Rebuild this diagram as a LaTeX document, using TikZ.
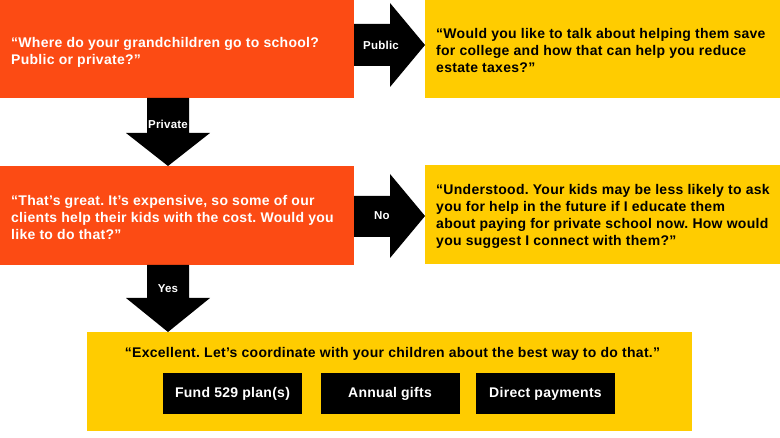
\documentclass[tikz,border=0pt]{standalone}
\usepackage{fontspec}
\setmainfont{Liberation Sans}[LetterSpace=2]
\usetikzlibrary{calc}
\definecolor{orng}{RGB}{252,75,20}
\definecolor{ylw}{RGB}{255,204,0}
\frenchspacing
\begin{document}
\begin{tikzpicture}[x=1pt,y=-1pt,
 box/.style={anchor=north west, inner sep=0pt, outer sep=0pt, draw=none},
 obox/.style={box, fill=orng},
 ybox/.style={box, fill=ylw},
 txt/.style={anchor=west, align=left, inner sep=0pt, font=\bfseries\fontsize{14}{17}\selectfont},
 wtxt/.style={txt, text=white},
 lbl/.style={text=white, inner sep=0pt, font=\bfseries\fontsize{11.5}{13}\selectfont},
 btn/.style={fill=black, text=white, minimum width=139pt, minimum height=41pt, inner sep=0pt, font=\bfseries\fontsize{14}{16}\selectfont},
 arr/.style={fill=black}]
\useasboundingbox (0,0) rectangle (780,438);
% boxes
\node[obox, minimum width=354pt, minimum height=98pt] (b1) at (0,0) {};
\node[ybox, minimum width=355pt, minimum height=98pt] (y1) at (425,0) {};
\node[obox, minimum width=354pt, minimum height=99pt] (b2) at (0,166) {};
\node[ybox, minimum width=355pt, minimum height=99pt] (y2) at (425,165) {};
\node[ybox, minimum width=605pt, minimum height=99pt] (b3) at (87,332) {};
% texts
\node[wtxt] (t1) at ($(b1.west)+(11,3)$) {“Where do your grandchildren go to school?\\Public or private?”};
\node[txt] (ty1) at ($(y1.west)+(11,1)$) {“Would you like to talk about helping them save\\for college and how that can help you reduce\\estate taxes?”};
\node[wtxt] (t2) at ($(b2.west)+(11,2)$) {“That’s great. It’s expensive, so some of our\\clients help their kids with the cost. Would you\\like to do that?”};
\node[txt] (ty2) at ($(y2.west)+(11,2)$) {“Understood. Your kids may be less likely to ask\\you for help in the future if I educate them\\about paying for private school now. How would\\you suggest I connect with them?”};
\node[txt, anchor=center] (t3) at ($(b3.north)+(3,22)$) {“Excellent. Let’s coordinate with your children about the best way to do that.”};
% buttons
\node[btn] (k1) at (232.5,393.5) {Fund 529 plan(s)};
\node[btn] (k2) at (390,393.5) {Annual gifts};
\node[btn] (k3) at (545.5,393.5) {Direct payments};
% arrows
\coordinate (pubtip) at ($(y1.north west)+(0,45)$);
\fill[arr] ($(b1.north east)+(0,24)$) -- ++(36,0) -- ++(0,-21) -- (pubtip) -- ++(-35,42) -- ++(0,-21) -- ++(-36,0) -- cycle;
\coordinate (notip) at ($(y2.north west)+(0,51)$);
\fill[arr] ($(b2.north east)+(0,30)$) -- ++(36,0) -- ++(0,-22) -- (notip) -- ++(-35,42) -- ++(0,-21) -- ++(-36,0) -- cycle;
\coordinate (pvttip) at ($(b2.north west)+(168,0)$);
\fill[arr] ($(b1.south west)+(147,0)$) -- ++(0,35) -- ++(-21,0) -- (pvttip) -- ++(42,-33) -- ++(-21,0) -- ++(0,-35) -- cycle;
\coordinate (yestip) at ($(b3.north west)+(81,0)$);
\fill[arr] ($(b2.south west)+(147,0)$) -- ++(0,33) -- ++(-21,0) -- (yestip) -- ++(42,-34) -- ++(-21,0) -- ++(0,-33) -- cycle;
% labels
\node[lbl] (lp) at ($(b1.north east)+(27,45)$) {Public};
\node[lbl] (ln) at ($(b2.north east)+(28,50)$) {No};
\node[lbl] (lv) at ($(b1.south west)+(168,26)$) {Private};
\node[lbl] (ls) at ($(b2.south west)+(168,24)$) {Yes};
\end{tikzpicture}
\end{document}
